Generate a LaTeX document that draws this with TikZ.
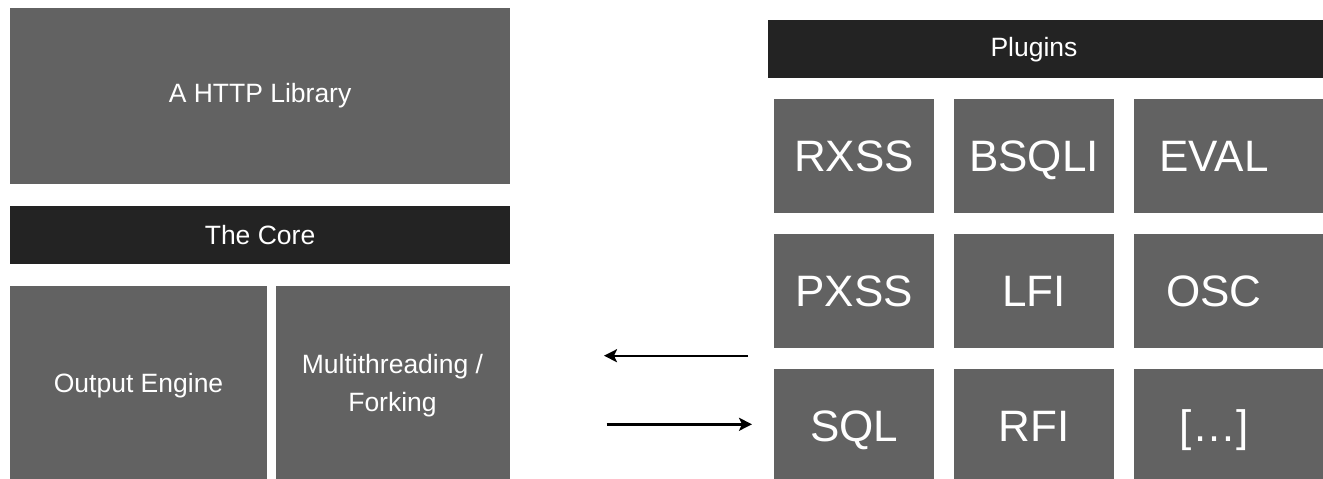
\documentclass[tikz,border=0pt]{standalone}
\usepackage{fontspec}
\setmainfont{Liberation Sans}
\usetikzlibrary{arrows.meta}
\definecolor{boxgray}{HTML}{626262}
\definecolor{bardark}{HTML}{232323}
\begin{document}
\begin{tikzpicture}[x=1pt,y=-1pt,
  blk/.style={fill=boxgray, text=white, inner sep=0pt, anchor=north west,
    font=\fontsize{26.5}{38}\selectfont, align=center},
  bar/.style={blk, fill=bardark},
  plug/.style={blk, minimum width=159.7pt, minimum height=113.7pt,
    font=\fontsize{44}{50}\selectfont, text height=31.5pt, text depth=0pt},
  conn/.style={line width=2.4pt, -{Stealth[length=13pt,width=13pt,inset=3pt]}}]
\useasboundingbox (0,0) rectangle (1323,479);
\clip (0,0) rectangle (1323,479);
% left column
\node[blk, minimum width=499.7pt, minimum height=175.7pt] (http) at (10,8) {A HTTP Library};
\node[bar, minimum width=499.7pt, minimum height=57.7pt] (core) at (10,206) {The Core};
\node[blk, minimum width=256.7pt, minimum height=198pt] (out) at (10,286) {Output Engine};
\node[blk, minimum width=234pt, minimum height=198pt] (multi) at (275.3,286) {Multithreading /\\Forking};
% plugins
\node[bar, minimum width=533pt, minimum height=58pt] (plugins) at (767.3,20) {Plugins};
\fill[bardark] (plugins.north east) rectangle (1323,78);
\node[plug] (rxss)  at (774,99)    {RXSS};
\node[plug] (bsqli) at (954,99)    {BSQLI};
\node[plug] (eval)  at (1134,99)   {EVAL};
\node[plug] (pxss)  at (774,234)   {PXSS};
\node[plug] (lfi)   at (954,234)   {LFI};
\node[plug] (osc)   at (1134,234)  {OSC};
\node[plug] (sql)   at (774,369)   {SQL};
\node[plug] (rfi)   at (954,369)   {RFI};
\node[plug] (more)  at (1134,369)  {[…]};
\fill[boxgray] (eval.north east) rectangle (1323,212.7);
\fill[boxgray] (osc.north east) rectangle (1323,347.7);
\fill[boxgray] (more.north east) rectangle (1323,482.7);
% connectors
\coordinate (a1s) at (748,355.7);
\coordinate (a1e) at (604,355.7);
\coordinate (a2s) at (606.7,424.3);
\coordinate (a2e) at (752,424.3);
\draw[conn] (a1s) -- (a1e);
\draw[conn] (a2s) -- (a2e);
\end{tikzpicture}
\end{document}
